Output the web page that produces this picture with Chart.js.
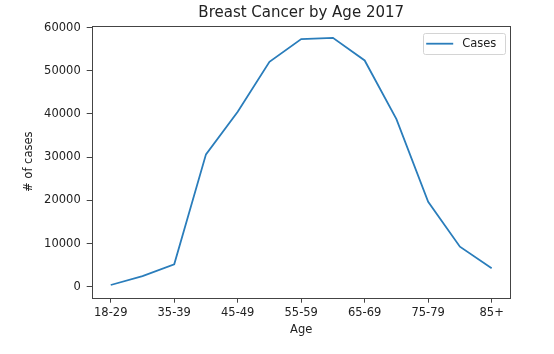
<!DOCTYPE html>
<html>
<head>
<meta charset="utf-8">
<script src="https://cdn.jsdelivr.net/npm/chart.js@4.4.0/dist/chart.umd.min.js"></script>
<style>
  body { margin: 0; background: #fff; }
  #chartBox { width: 554px; height: 354px; }
</style>
</head>
<body>
<div id="chartBox"><canvas id="myChart" width="554" height="354"></canvas></div>
<script>
// datos
const ageGroups = ['18-29', '30-34', '35-39', '40-44', '45-49', '50-54', '55-59',
                   '60-64', '65-69', '70-74', '75-79', '80-84', '85+'];
const cases = [390, 2470, 5180, 30650, 40500, 52080, 57340, 57640, 52400, 38820, 19680, 9260, 4260];
const xTickIdx = [0, 2, 4, 6, 8, 10, 12];
const yTicks = [0, 10000, 20000, 30000, 40000, 50000, 60000];

const fontFam = "'DejaVu Sans', sans-serif";
const txtColor = '#222';

// marco completo alrededor del area del grafico + leyenda estilo matplotlib
const framePlugin = {
    id: 'frame',
    afterDraw(chart) {
        const c = chart.ctx;
        const a = chart.chartArea;
        c.save();
        c.strokeStyle = '#444';
        c.lineWidth = 1;
        c.strokeRect(Math.round(a.left) + 0.5, Math.round(a.top) + 0.5,
                     Math.round(a.right - a.left) - 1, Math.round(a.bottom - a.top));

        // leyenda
        const ds = chart.data.datasets[0];
        const w = 82, h = 21;
        const x = a.right - 5.5 - w, y = a.top + 7.5;
        c.beginPath();
        c.roundRect(Math.round(x) + 0.5, Math.round(y) + 0.5, w, h, 2);
        c.fillStyle = 'rgba(255,255,255,0.8)';
        c.fill();
        c.strokeStyle = '#d4d4d4';
        c.stroke();
        c.beginPath();
        c.moveTo(x + 3, y + 10.5);
        c.lineTo(x + 30, y + 10.5);
        c.strokeStyle = ds.borderColor;
        c.lineWidth = ds.borderWidth;
        c.stroke();
        c.fillStyle = txtColor;
        c.font = '11.5px ' + fontFam;
        c.textBaseline = 'middle';
        c.fillText(ds.label, x + 39, y + 11);
        c.restore();
    }
};

var ctx = document.getElementById('myChart').getContext('2d');
var myChart = new Chart(ctx, {
    type: 'line',
    data: {
        datasets: [{
            label: 'Cases',
            data: cases.map((v, i) => ({x: i, y: v})),
            borderColor: '#2a7dbb',
            borderWidth: 1.8,
            pointRadius: 0,
            tension: 0,
            fill: false
        }]
    },
    options: {
        responsive: false,
        devicePixelRatio: 1,
        animation: false,
        layout: { padding: { left: 0, right: 43.3, top: 0, bottom: 0 } },
        plugins: {
            legend: { display: false },
            tooltip: { enabled: false },
            title: {
                display: true,
                text: 'Breast Cancer by Age 2017',
                fullSize: false,
                color: txtColor,
                font: { family: fontFam, size: 15, weight: 'normal' },
                padding: { top: 4.2, bottom: 3.5 }
            }
        },
        scales: {
            x: {
                type: 'linear',
                min: -0.6,
                max: 12.6,
                afterFit: s => { s.height = 56.3; },
                afterBuildTicks: s => { s.ticks = xTickIdx.map(v => ({value: v})); },
                ticks: {
                    color: txtColor,
                    font: { family: fontFam, size: 11.5 },
                    padding: 3,
                    maxRotation: 0,
                    autoSkip: false,
                    callback: v => ageGroups[v]
                },
                grid: { drawOnChartArea: false, drawTicks: true, tickLength: 5, color: '#444' },
                border: { display: false },
                title: {
                    display: true,
                    text: 'Age',
                    color: txtColor,
                    font: { family: fontFam, size: 11.5 },
                    padding: { top: 0, bottom: 17.1 }
                }
            },
            y: {
                min: -2550,
                max: 60450,
                afterFit: s => { s.width = 91.7; },
                afterBuildTicks: s => { s.ticks = yTicks.map(v => ({value: v})); },
                ticks: {
                    color: txtColor,
                    font: { family: fontFam, size: 11.5 },
                    padding: 6,
                    callback: v => String(v)
                },
                grid: { drawOnChartArea: false, drawTicks: true, tickLength: 5, color: '#444' },
                border: { display: false },
                title: {
                    display: true,
                    text: '# of cases',
                    color: txtColor,
                    font: { family: fontFam, size: 11.5 },
                    padding: { top: 22.4, bottom: 0 }
                }
            }
        }
    },
    plugins: [framePlugin]
});
</script>
</body>
</html>
